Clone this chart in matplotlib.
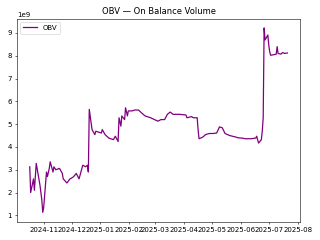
import matplotlib
matplotlib.use("Agg")
import matplotlib.pyplot as plt
import pandas as pd

dates = [
    "2024-10-17", "2024-10-18", "2024-10-21", "2024-10-22", "2024-10-24",
    "2024-10-28", "2024-10-30", "2024-10-31", "2024-11-01", "2024-11-04",
    "2024-11-05", "2024-11-07", "2024-11-08", "2024-11-11", "2024-11-12",
    "2024-11-14", "2024-11-18", "2024-11-21", "2024-11-22", "2024-11-26",
    "2024-11-29", "2024-12-03", "2024-12-06", "2024-12-09", "2024-12-13",
    "2024-12-16", "2024-12-18", "2024-12-19", "2024-12-20", "2024-12-23",
    "2024-12-26", "2024-12-27", "2025-01-02", "2025-01-03", "2025-01-06",
    "2025-01-10", "2025-01-15", "2025-01-17", "2025-01-20", "2025-01-21",
    "2025-01-23", "2025-01-24", "2025-01-27", "2025-01-28", "2025-01-30",
    "2025-01-31", "2025-02-04", "2025-02-07", "2025-02-11", "2025-02-14",
    "2025-02-18", "2025-02-24", "2025-02-28", "2025-03-04", "2025-03-07",
    "2025-03-11", "2025-03-14", "2025-03-17", "2025-03-20", "2025-03-27",
    "2025-04-03", "2025-04-04", "2025-04-09", "2025-04-11", "2025-04-15",
    "2025-04-16", "2025-04-17", "2025-04-21", "2025-04-24", "2025-04-28",
    "2025-05-02", "2025-05-06", "2025-05-09", "2025-05-12", "2025-05-15",
    "2025-05-20", "2025-05-27", "2025-05-29", "2025-06-02", "2025-06-06",
    "2025-06-12", "2025-06-17", "2025-06-18", "2025-06-20", "2025-06-23",
    "2025-06-24", "2025-06-25", "2025-06-26", "2025-06-27", "2025-06-30",
    "2025-07-01", "2025-07-02", "2025-07-03", "2025-07-07", "2025-07-09",
    "2025-07-10", "2025-07-11", "2025-07-14", "2025-07-16", "2025-07-18",
    "2025-07-21",
]
obv_billions = [
    3.13, 2.00, 2.60, 2.10, 3.28,
    2.32, 1.67, 1.13, 1.35, 2.90,
    2.70, 3.06, 3.35, 2.90, 3.13,
    3.00, 3.06, 2.84, 2.60, 2.42,
    2.59, 2.69, 2.84, 2.60, 3.20,
    3.13, 3.20, 2.90, 5.65, 4.76,
    4.54, 4.69, 4.61, 4.76, 4.54,
    4.39, 4.32, 4.47, 4.24, 5.28,
    4.91, 5.36, 5.20, 5.72, 5.36,
    5.58, 5.58, 5.62, 5.62, 5.50,
    5.36, 5.28, 5.20, 5.13, 5.20,
    5.20, 5.43, 5.53, 5.43, 5.43,
    5.40, 5.28, 5.33, 5.28, 5.28,
    4.76, 4.36, 4.43, 4.54, 4.59,
    4.59, 4.61, 4.88, 4.84, 4.59,
    4.50, 4.43, 4.40, 4.39, 4.36,
    4.36, 4.39, 4.47, 4.17, 4.32,
    4.69, 5.28, 9.22, 8.69, 8.91,
    8.47, 8.17, 8.02, 8.05, 8.07,
    8.40, 8.10, 8.07, 8.14, 8.10,
    8.12,
]

x = pd.to_datetime(dates)
y = [v * 1e9 for v in obv_billions]

fig, ax = plt.subplots(figsize=(6.4, 4.8), dpi=50)
ax.plot(x, y, color="purple", linewidth=1.8, label="OBV")
ax.set_title("OBV — On Balance Volume")
ax.legend(loc="upper left")
fig.tight_layout()
fig.savefig("out.png", dpi=50)
